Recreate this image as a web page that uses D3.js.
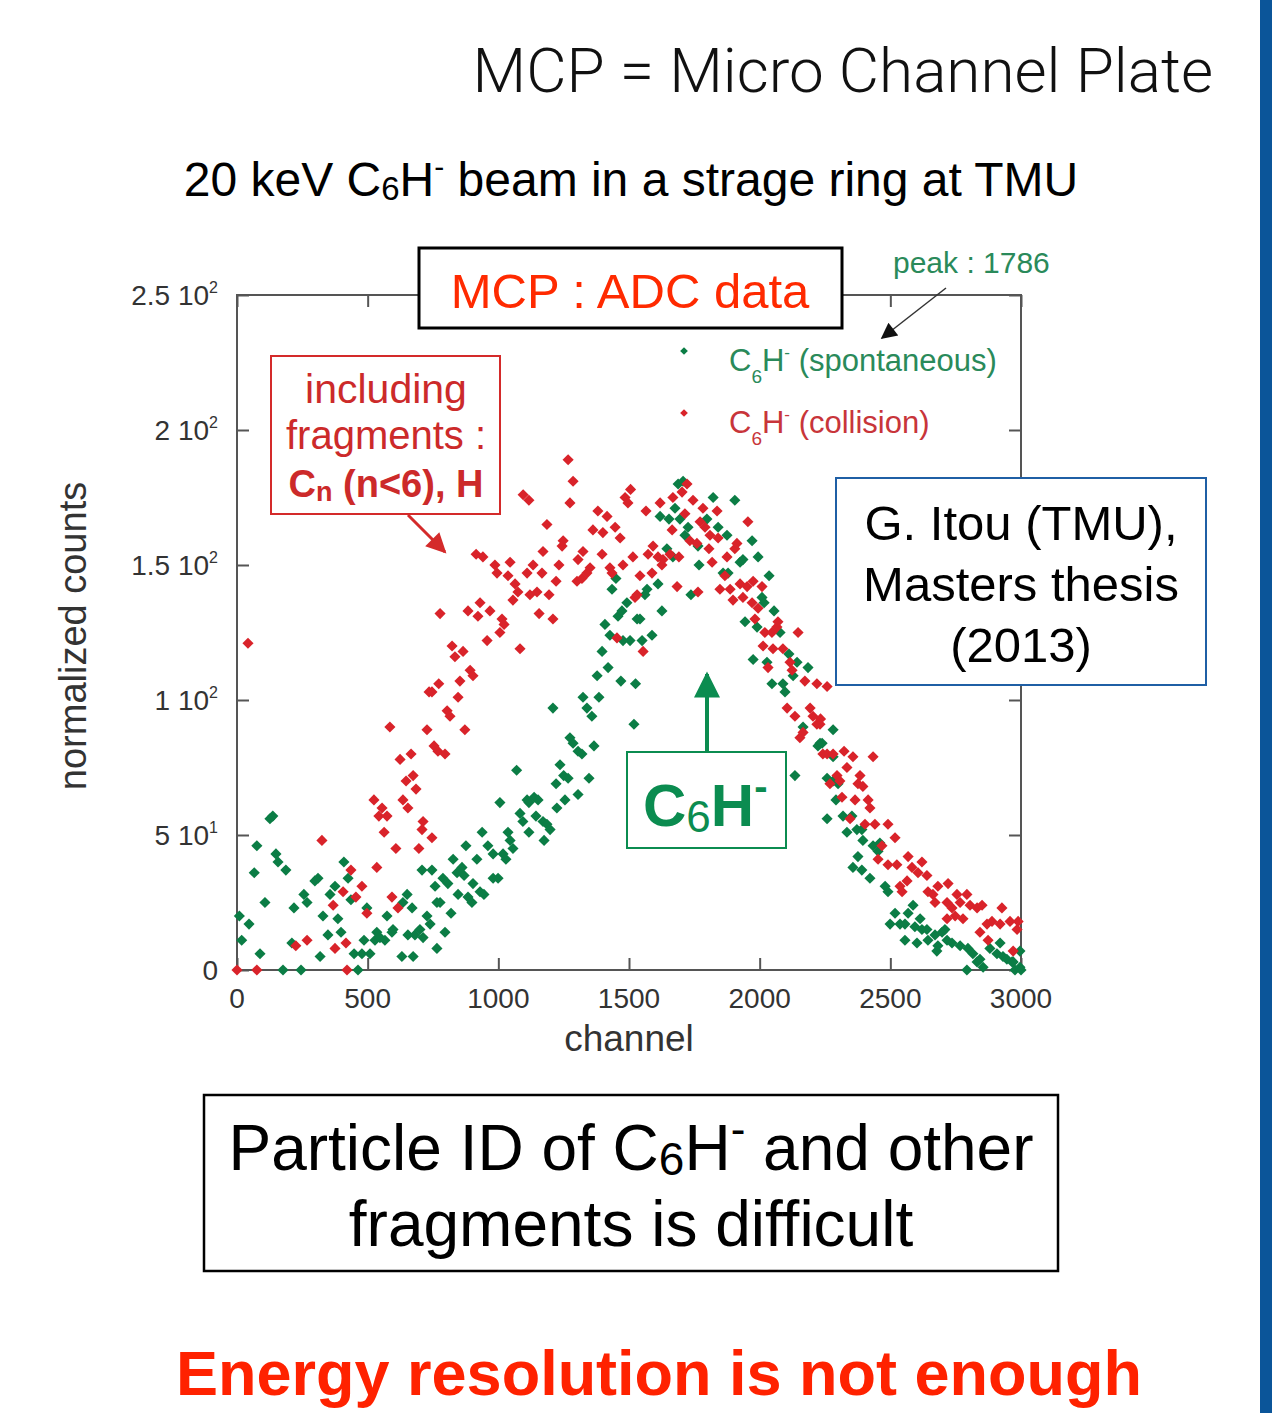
<!DOCTYPE html>
<html>
<head>
<meta charset="utf-8">
<script src="https://cdn.jsdelivr.net/npm/d3@7"></script>
<style>
  body { margin: 0; background: #fff; }
  text { font-family: "Liberation Sans", Arial, sans-serif; }
</style>
</head>
<body>
<div id="chart"></div>
<script>
// C6H- spontaneous (green)
var spontChannel = [9,18,46,66,76,88,107,126,137,149,157,176,187,210,218,245,256,268,298,310,318,329,348,356,375,386,398,409,425,436,448,463,478,486,497,
  509,528,535,547,566,574,593,597,631,635,651,654,670,674,681,700,708,712,727,739,746,758,765,765,777,788,796,807,819,
  827,842,846,861,869,876,884,899,903,918,930,938,945,960,980,980,999,1006,1018,1029,1037,1045,1056,1070,1083,1094,1110,1117,1117,1137,1144,1152,1171,1175,1186,1198,
  1209,1221,1224,1236,1250,1255,1267,1274,1286,1305,1305,1320,1324,1339,1347,1358,1366,1378,1385,1397,1408,1420,1427,1435,1450,1458,1469,1473,1477,1492,1504,
  1519,1525,1531,1542,1550,1561,1569,1588,1611,1619,1626,1645,1653,1668,1676,1688,1695,1707,1714,1726,1737,1764,1768,1798,1822,1841,1860,1875,1879,1905,
  1925,1936,1944,1971,1975,1990,1994,2009,2017,2028,2036,2047,2055,2078,2089,2097,2112,2128,2135,2143,2166,2185,2223,2231,2239,2258,2258,2281,2281,2281,2292,2300,
  2319,2334,2353,2357,2372,2376,2391,2391,2395,2422,2434,2453,2460,2480,2491,2499,2518,2537,2556,2556,2568,2587,2594,2602,2614,2621,2640,2644,2671,2678,2682,
  2698,2709,2717,2736,2767,2793,2797,2816,2832,2843,2855,2881,2908,2920,2931,2946,2966,2970,2977,2996,2996,3000];
var spontCounts = [20,11,17,36,46,6,25,56,57,43,40,0,37,10,23,0,28,25,33,34,5,20,13,28,31,19,14,40,34,26,6,0,6,11,23,
  6,11,14,12,11,20,14,15,5,25,28,13,23,5,13,15,37,12,20,17,37,31,25,8,25,34,14,32,21,
  41,36,28,38,35,46,27,25,32,41,29,51,28,46,43,34,34,62,43,41,51,48,45,74,58,55,63,62,51,64,57,63,55,48,54,52,
  97,69,60,76,72,63,71,86,84,81,65,80,101,97,71,94,83,109,101,118,128,112,124,141,145,131,107,133,122,136,122,
  91,106,130,130,122,139,141,124,143,168,133,156,167,153,171,180,167,181,161,164,139,157,150,167,175,164,147,161,147,174,
  151,152,129,159,115,127,153,138,136,114,146,106,133,125,106,103,117,109,72,114,90,112,83,84,84,71,56,89,79,70,63,69,
  57,51,57,38,52,42,52,37,48,34,46,44,47,31,29,17,21,17,17,11,21,24,16,10,19,15,15,11,13,7,9,
  14,15,11,10,9,0,8,6,3,4,1,8,6,10,5,4,3,3,0,1,7,0];

// C6H- collision (red)
var collChannel = [0,42,76,225,268,325,368,375,406,417,421,436,455,478,497,524,535,543,555,563,574,585,593,608,616,624,635,647,654,666,674,685,696,708,712,727,735,746,746,754,769,772,777,796,
  804,815,823,834,846,853,865,872,884,892,903,915,922,930,941,957,968,987,995,1006,1014,1022,1037,1045,1056,1064,1075,1083,1095,1110,1117,1121,1133,1148,1156,1167,1171,1186,1194,
  1209,1221,1232,1244,1248,1267,1274,1286,1301,1305,1320,1324,1339,1351,1362,1381,1397,1400,1416,1427,1435,1447,1454,1466,1477,1485,1496,1506,1515,1523,1531,
  1542,1554,1565,1573,1588,1592,1611,1619,1626,1630,1657,1665,1668,1684,1691,1703,1714,1722,1733,1745,1760,1764,1772,1783,1791,1806,1810,1818,1837,1841,1848,1867,1875,1887,1898,
  1905,1913,1925,1936,1952,1955,1971,1975,1982,1994,2009,2013,2020,2032,2047,2051,2066,2070,2089,2105,2116,2124,2135,2147,2154,2166,2173,2193,2204,2219,2219,2233,2231,2242,2258,2258,
  2269,2281,2296,2307,2315,2323,2334,2346,2357,2365,2376,2384,2395,2403,2415,2422,2434,2441,2453,2468,2491,2491,2518,2525,2537,2545,2564,2568,2583,2606,2621,2640,2644,2663,2671,2682,
  2717,2717,2721,2736,2748,2755,2767,2778,2793,2805,2832,2843,2851,2870,2874,2889,2920,2927,2958,2970,2985,2989];
var collCounts = [0,121,0,9,11,48,24,8,29,10,0,37,27,31,21,63,38,57,60,51,57,90,27,45,23,78,63,70,60,80,72,67,45,52,55,89,103,49,103,83,81,106,132,80,
  96,94,120,116,101,107,118,89,133,111,109,154,131,136,153,122,133,150,147,125,130,128,146,151,137,143,140,119,176,147,174,139,150,140,132,147,155,165,139,
  130,144,150,157,159,189,173,181,144,152,145,155,147,149,163,170,154,162,168,149,147,164,123,160,150,175,173,178,153,138,139,
  146,118,170,154,147,157,153,173,150,152,154,163,175,142,153,177,169,180,159,174,158,140,166,171,164,156,161,151,170,160,141,146,153,141,137,
  156,158,143,138,142,166,136,144,130,134,142,120,125,112,125,119,127,129,119,97,114,111,94,125,86,88,107,97,94,106,91,93,91,80,105,80,
  69,80,72,70,64,81,75,56,79,63,69,72,68,54,63,60,79,54,41,46,54,39,49,39,31,29,33,42,38,36,40,35,29,28,25,31,
  25,19,32,23,20,28,25,19,28,24,23,14,24,17,11,18,17,23,18,7,15,18];

var xTicks = [0, 500, 1000, 1500, 2000, 2500, 3000];
var yTicks = [0, 50, 100, 150, 200, 250];
var yTickMant = ["0", "5", "1", "1.5", "2", "2.5"];
var yTickExp = ["", "1", "2", "2", "2", "2"];

var width = 1272, height = 1413;
var plot = {left: 237, right: 1021, top: 295, bottom: 970};

var green = "#0b7d45", red = "#d9232a";

var svg = d3.select("#chart").append("svg")
  .attr("width", width)
  .attr("height", height);

svg.append("rect").attr("width", width).attr("height", height).attr("fill", "#fff");

// blue side bar
svg.append("rect").attr("x", 1260).attr("y", 0).attr("width", 12).attr("height", height).attr("fill", "#0b5599");

var x = d3.scaleLinear().domain([0, 3000]).range([plot.left, plot.right]);
var y = d3.scaleLinear().domain([0, 250]).range([plot.bottom, plot.top]);

// headings
svg.append("text")
  .attr("x", 1213).attr("y", 92)
  .attr("text-anchor", "end")
  .attr("font-size", 62)
  .attr("font-weight", 300)
  .style("font-family", "Roboto, 'Liberation Sans', sans-serif")
  .attr("fill", "#111")
  .text("MCP = Micro Channel Plate");

var sub = svg.append("text")
  .attr("x", 631).attr("y", 196)
  .attr("text-anchor", "middle")
  .attr("font-size", 48)
  .attr("fill", "#000");
sub.append("tspan").text("20 keV C");
sub.append("tspan").attr("font-size", 33).attr("dy", 4).text("6");
sub.append("tspan").attr("dy", -4).text("H");
sub.append("tspan").attr("font-size", 30).attr("dy", -19).text("-");
sub.append("tspan").attr("dy", 19).text(" beam in a strage ring at TMU");

// axes
var tickColor = "#555";
var g = svg.append("g");

g.append("g").attr("transform", "translate(0," + plot.bottom + ")")
  .call(d3.axisBottom(x).tickValues(xTicks).tickSize(-12).tickSizeOuter(0).tickFormat(""));
g.append("g").attr("transform", "translate(0," + plot.top + ")")
  .call(d3.axisTop(x).tickValues(xTicks).tickSize(-12).tickSizeOuter(0).tickFormat(""));
g.append("g").attr("transform", "translate(" + plot.left + ",0)")
  .call(d3.axisLeft(y).tickValues(yTicks).tickSize(-12).tickSizeOuter(0).tickFormat(""));
g.append("g").attr("transform", "translate(" + plot.right + ",0)")
  .call(d3.axisRight(y).tickValues(yTicks).tickSize(-12).tickSizeOuter(0).tickFormat(""));
g.selectAll(".domain").remove();
g.selectAll(".tick line").attr("stroke", tickColor).attr("stroke-width", 2);

g.append("rect")
  .attr("x", plot.left).attr("y", plot.top)
  .attr("width", plot.right - plot.left).attr("height", plot.bottom - plot.top)
  .attr("fill", "none").attr("stroke", tickColor).attr("stroke-width", 2);

g.selectAll(".xlab").data(xTicks).enter().append("text")
  .attr("x", function(d) { return x(d); })
  .attr("y", 1008)
  .attr("text-anchor", "middle")
  .attr("font-size", 28)
  .attr("fill", "#333")
  .text(function(d) { return d; });

var ylab = g.selectAll(".ylab").data(yTicks).enter().append("text")
  .attr("x", 218)
  .attr("y", function(d) { return y(d) + 10; })
  .attr("text-anchor", "end")
  .attr("font-size", 28)
  .attr("fill", "#333");
ylab.append("tspan").text(function(d, i) { return yTickMant[i] + (yTickExp[i] ? " 10" : ""); });
ylab.append("tspan").attr("font-size", 16).attr("dy", -12)
  .text(function(d, i) { return yTickExp[i]; });

g.append("text")
  .attr("x", 629).attr("y", 1051)
  .attr("text-anchor", "middle")
  .attr("font-size", 37)
  .attr("fill", "#333")
  .text("channel");

g.append("text")
  .attr("transform", "translate(86,636) rotate(-90)")
  .attr("text-anchor", "middle")
  .attr("font-size", 38)
  .attr("fill", "#333")
  .text("normalized counts");

// points
var diamond = d3.symbol().type(d3.symbolSquare).size(62);
function drawPoints(chs, cnts, color) {
  svg.append("g").selectAll("path").data(chs).enter().append("path")
    .attr("d", diamond)
    .attr("transform", function(d, i) { return "translate(" + x(d) + "," + y(cnts[i]) + ") rotate(45)"; })
    .attr("fill", color);
}
drawPoints(spontChannel, spontCounts, green);
drawPoints(collChannel, collCounts, red);

// legend
var legend = [
  {label: "(spontaneous)", color: green, text: "#2a8a5a", yy: 351},
  {label: "(collision)", color: red, text: "#c8353a", yy: 413}
];
legend.forEach(function(l) {
  svg.append("path").attr("d", d3.symbol().type(d3.symbolSquare).size(30))
    .attr("transform", "translate(684," + l.yy + ") rotate(45)")
    .attr("fill", l.color);
  var t = svg.append("text").attr("x", 729).attr("y", l.yy + 20)
    .attr("font-size", 31).attr("fill", l.text);
  t.append("tspan").text("C");
  t.append("tspan").attr("font-size", 19).attr("dy", 12).text("6");
  t.append("tspan").attr("dy", -12).text("H");
  t.append("tspan").attr("font-size", 17).attr("dy", -13).text("-");
  t.append("tspan").attr("dy", 13).text(" " + l.label);
});

// peak annotation
svg.append("text").attr("x", 893).attr("y", 273)
  .attr("font-size", 30).attr("fill", "#2a8a5a").text("peak : 1786");

var defs = svg.append("defs");
function arrowHead(id, color, w, h) {
  defs.append("marker").attr("id", id)
    .attr("viewBox", "0 0 10 10").attr("refX", 9).attr("refY", 5)
    .attr("markerUnits", "userSpaceOnUse")
    .attr("markerWidth", w).attr("markerHeight", h)
    .attr("orient", "auto")
    .append("path").attr("d", "M0,0 L10,5 L0,10 z").attr("fill", color);
}
arrowHead("ablack", "#111", 22, 16);
arrowHead("ared", "#d42a2a", 24, 20);
arrowHead("agreen", "#0b8c50", 28, 26);

svg.append("line").attr("x1", 946).attr("y1", 288).attr("x2", 882).attr("y2", 338)
  .attr("stroke", "#333").attr("stroke-width", 1.5).attr("marker-end", "url(#ablack)");

// MCP : ADC data box
svg.append("rect").attr("x", 419).attr("y", 248).attr("width", 423).attr("height", 80)
  .attr("fill", "#fff").attr("stroke", "#000").attr("stroke-width", 3);
svg.append("text").attr("x", 630).attr("y", 308).attr("text-anchor", "middle")
  .attr("font-size", 49).attr("fill", "#ff2a00").text("MCP : ADC data");

// fragments box
svg.append("rect").attr("x", 271).attr("y", 356).attr("width", 229).attr("height", 158)
  .attr("fill", "#fff").attr("stroke", "#d42a2a").attr("stroke-width", 2);
svg.append("text").attr("x", 386).attr("y", 403).attr("text-anchor", "middle")
  .attr("font-size", 41).attr("fill", "#cc2a2a").text("including");
svg.append("text").attr("x", 386).attr("y", 449).attr("text-anchor", "middle")
  .attr("font-size", 40).attr("fill", "#cc2a2a").text("fragments :");
var cn = svg.append("text").attr("x", 386).attr("y", 497).attr("text-anchor", "middle")
  .attr("font-size", 38).attr("font-weight", "bold").attr("fill", "#cc2a2a");
cn.append("tspan").text("C");
cn.append("tspan").attr("font-size", 27).attr("dy", 4).text("n");
cn.append("tspan").attr("dy", -4).text(" (n<6), H");
svg.append("line").attr("x1", 408).attr("y1", 515).attr("x2", 445).attr("y2", 552)
  .attr("stroke", "#d42a2a").attr("stroke-width", 3).attr("marker-end", "url(#ared)");

// thesis box
svg.append("rect").attr("x", 836).attr("y", 478).attr("width", 370).attr("height", 207)
  .attr("fill", "#fff").attr("stroke", "#1f5fa5").attr("stroke-width", 2);
["G. Itou (TMU),", "Masters thesis", "(2013)"].forEach(function(s, i) {
  svg.append("text").attr("x", 1021).attr("y", 540 + i * 61).attr("text-anchor", "middle")
    .attr("font-size", 49).attr("fill", "#000").text(s);
});

// C6H- box with arrow
svg.append("line").attr("x1", 707).attr("y1", 752).attr("x2", 707).attr("y2", 674)
  .attr("stroke", "#0b8c50").attr("stroke-width", 4).attr("marker-end", "url(#agreen)");
svg.append("rect").attr("x", 627).attr("y", 752).attr("width", 159).attr("height", 96)
  .attr("fill", "#fff").attr("stroke", "#0b8c50").attr("stroke-width", 2);
var c6 = svg.append("text").attr("x", 643).attr("y", 826)
  .attr("font-size", 60).attr("font-weight", "bold").attr("fill", "#0b8c50");
c6.append("tspan").text("C");
c6.append("tspan").attr("font-size", 44).attr("dy", 6).attr("font-weight", "normal").text("6");
c6.append("tspan").attr("dy", -6).text("H");
c6.append("tspan").attr("font-size", 40).attr("dy", -26).text("-");

// bottom statement
svg.append("rect").attr("x", 204).attr("y", 1095).attr("width", 854).attr("height", 176)
  .attr("fill", "#fff").attr("stroke", "#000").attr("stroke-width", 2.5);
var p1 = svg.append("text").attr("x", 631).attr("y", 1170).attr("text-anchor", "middle")
  .attr("font-size", 64).attr("fill", "#000");
p1.append("tspan").text("Particle ID of C");
p1.append("tspan").attr("font-size", 46).attr("dy", 5).text("6");
p1.append("tspan").attr("dy", -5).text("H");
p1.append("tspan").attr("font-size", 44).attr("dy", -26).text("-");
p1.append("tspan").attr("dy", 26).text(" and other");
svg.append("text").attr("x", 631).attr("y", 1246).attr("text-anchor", "middle")
  .attr("font-size", 64).attr("fill", "#000").text("fragments is difficult");

svg.append("text").attr("x", 659).attr("y", 1395).attr("text-anchor", "middle")
  .attr("font-size", 63).attr("font-weight", "bold").attr("fill", "#ff2200")
  .text("Energy resolution is not enough");
</script>
</body>
</html>
